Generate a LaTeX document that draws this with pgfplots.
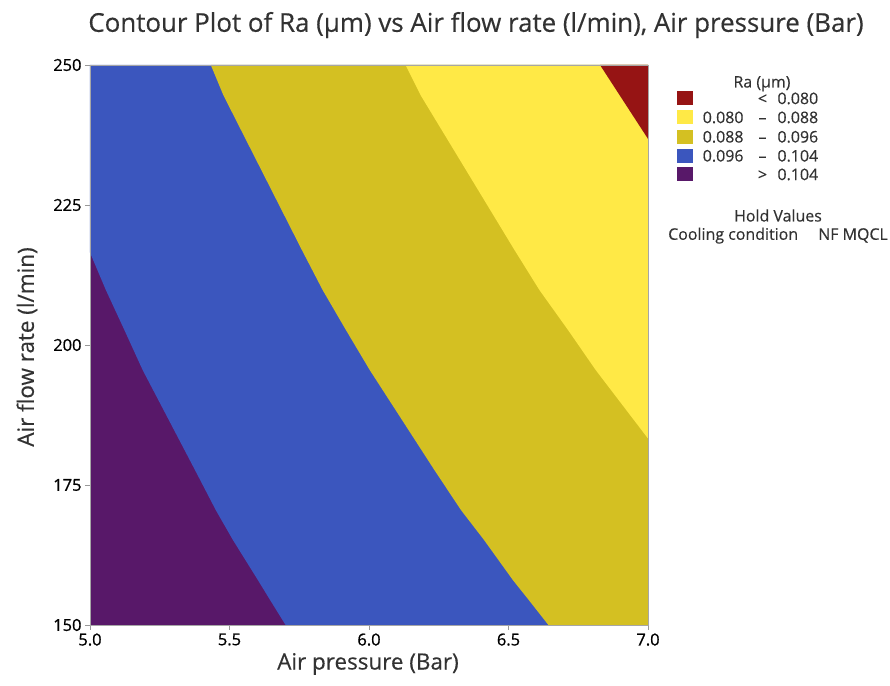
\documentclass[border=0pt]{standalone}
\usepackage{fontspec}
\setmainfont{Open Sans}[BoldFont={Open Sans}, BoldFeatures={FakeBold=0.9}]
\newfontfamily\semi{Open Sans}[FakeBold=0.4]
\usepackage{pgfplots}
\pgfplotsset{compat=1.18}

\definecolor{cpurple}{RGB}{88,24,105}
\definecolor{cblue}{RGB}{59,86,190}
\definecolor{cgold}{RGB}{212,192,34}
\definecolor{cyellow}{RGB}{255,233,70}
\definecolor{cred}{RGB}{150,20,20}
\definecolor{txt}{RGB}{50,50,50}

\begin{document}
\begin{tikzpicture}[x=1bp,y=1bp]
\useasboundingbox (-90,-61) rectangle (800,625);
\begin{axis}[
    at={(0,0)}, anchor=south west, scale only axis,
    width=558bp, height=560bp,
    xmin=5, xmax=7, ymin=150, ymax=250,
    xtick={5,5.5,6,6.5,7}, ytick={150,175,200,225,250},
    xticklabel style={/pgf/number format/.cd,fixed,fixed zerofill,precision=1},
    /pgf/number format/assume math mode=true,
    tick label style={font=\fontsize{16.5}{19}\selectfont\bfseries, text=black},
    axis line style={black!35}, tick style={black!40},
    tick align=outside, major tick length=5bp,
    xtick pos=bottom, ytick pos=left,
    axis on top,
  ]
  % Ra regions: each one filled from its contour line to the right edge
  \addplot[fill=cpurple, draw=none] coordinates {(5,150) (7,150) (7,250) (5,250)} -- cycle;
  \addplot[fill=cblue, draw=none] coordinates {
    (5.000,216.5) (5.057,209.8) (5.123,202.7) (5.189,195.5) (5.376,177.7)
    (5.451,170.5) (5.512,165.2) (5.602,158.0) (5.645,154.5) (5.701,150)
    (7,150) (7,250) (5,250)} -- cycle;
  \addplot[fill=cgold, draw=none] coordinates {
    (5.433,250) (5.478,244.6) (5.759,217.0) (5.834,209.8) (5.917,202.7)
    (6.003,195.5) (6.234,177.7) (6.330,170.5) (6.412,165.2) (6.516,158.0)
    (6.572,154.5) (6.643,150) (7,150) (7,250)} -- cycle;
  \addplot[fill=cyellow, draw=none] coordinates {
    (6.131,250) (6.185,244.6) (6.521,217.0) (6.611,209.8) (6.713,202.7)
    (6.813,195.5) (7.000,183.3) (7,250)} -- cycle;
  \addplot[fill=cred, draw=none] coordinates {(6.828,250) (7.000,236.8) (7,250)} -- cycle;
\end{axis}

\node[text=txt, font=\semi\fontsize{26}{30}\selectfont] at (386,600)
  {Contour Plot of Ra (µm) vs Air flow rate (l/min), Air pressure (Bar)};
\node[text=txt, font=\semi\fontsize{22.5}{26}\selectfont] at (278,-39) {Air pressure (Bar)};
\node[text=txt, font=\semi\fontsize{22.5}{26}\selectfont, rotate=90] at (-63,278) {Air flow rate (l/min)};

% legend
\begin{scope}[font=\semi\fontsize{16}{18}\selectfont, text=txt]
  \node[anchor=base] at (672,537.5) {Ra (µm)};
  \foreach \c/\yy in {cred/526.7, cyellow/507.7, cgold/488.3, cblue/469.3, cpurple/450.7}
    \fill[\c] (586.7,\yy-7) rectangle (603.3,\yy+7);
  \foreach \yy/\lo/\sym/\hi in {526.7//</0.080, 507.7/0.080/–/0.088, 488.3/0.088/–/0.096,
                               469.3/0.096/–/0.104, 450.7//>/0.104} {
    \node[anchor=base east] at (657,\yy-5.8) {\lo};
    \node[anchor=base] at (672.5,\yy-5.8) {\sym};
    \node[anchor=base east] at (731.7,\yy-5.8) {\hi};
  }
  \node[anchor=base] at (688,403.5) {Hold Values};
  \node[anchor=base west, inner xsep=0pt] at (578,385.2) {Cooling condition};
  \node[anchor=base east, inner xsep=0pt] at (798,385.2) {NF MQCL};
\end{scope}
\end{tikzpicture}
\end{document}
